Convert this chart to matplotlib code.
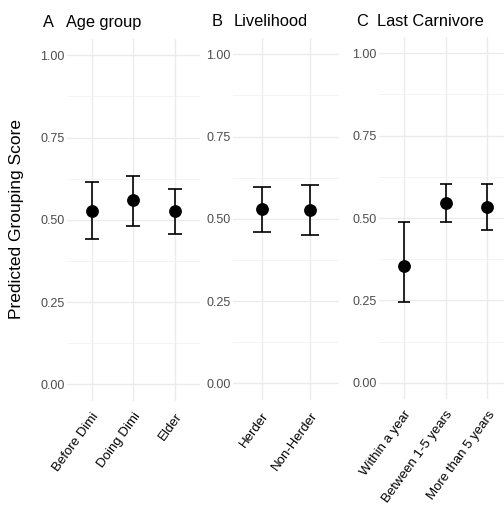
import matplotlib
matplotlib.use("Agg")
import matplotlib.pyplot as plt
import numpy as np

# ---- data ----
age_cats = ["Before Dimi", "Doing Dimi", "Elder"]
age_est = [0.528, 0.559, 0.527]
age_lo = [0.441, 0.481, 0.458]
age_hi = [0.615, 0.633, 0.595]

live_cats = ["Herder", "Non-Herder"]
live_est = [0.530, 0.528]
live_lo = [0.461, 0.452]
live_hi = [0.598, 0.603]

carn_cats = ["Within a year", "Between 1-5 years", "More than 5 years"]
carn_est = [0.354, 0.546, 0.532]
carn_lo = [0.246, 0.487, 0.464]
carn_hi = [0.489, 0.604, 0.602]

titles = [("A", "Age group"), ("B", "Livelihood"), ("C", "Last Carnivore")]
yticks = [0.0, 0.25, 0.5, 0.75, 1.0]
yticklabels = ["0.00", "0.25", "0.50", "0.75", "1.00"]

W, H = 504, 509
fig = plt.figure(figsize=(W / 100, H / 100), dpi=100)
plt.rcParams['font.family'] = ['Liberation Sans', 'DejaVu Sans']

# panel geometry in pixels: left, right, top, bottom
geoms = [(66.7, 200.2, 38.85, 400.75),
         (232.7, 339.0, 37.85, 399.75),
         (379.0, 512.4, 36.85, 399.2)]
title_pos = [(43.3, 66.0, 26.7), (211.7, 233.3, 26.0), (356.0, 377.3, 26.0)]
capsizes = [4.9, 6.6, 4.6]

panels = [(age_cats, age_est, age_lo, age_hi),
          (live_cats, live_est, live_lo, live_hi),
          (carn_cats, carn_est, carn_lo, carn_hi)]

grid_col = "#ebebeb"
for i, ((cats, est, lo, hi), (l, r, t, b)) in enumerate(zip(panels, geoms)):
    ax = fig.add_axes([l / W, 1 - b / H, (r - l) / W, (b - t) / H])
    x = np.arange(len(cats))
    est = np.array(est); lo = np.array(lo); hi = np.array(hi)
    ax.errorbar(x, est, yerr=[est - lo, hi - est], fmt='o', color='black',
                ecolor='black', elinewidth=1.2, capsize=capsizes[i], capthick=1.2,
                markersize=8.2, zorder=3)
    ax.set_xlim(-0.6, len(cats) - 0.4)
    ax.set_ylim(-0.05, 1.05)
    ax.set_yticks(yticks)
    ax.set_yticklabels(yticklabels)
    ax.set_yticks([0.125, 0.375, 0.625, 0.875], minor=True)
    ax.set_xticks(x)
    ax.set_xticklabels(cats, rotation=54, ha='right', va='top',
                       rotation_mode='anchor', fontsize=9.5, color='black')
    ax.tick_params(axis='x', length=0, pad=7)
    ax.tick_params(axis='y', which='both', length=0, pad=1.5)
    for lab in ax.get_yticklabels():
        lab.set_fontsize(9)
        lab.set_color('#4d4d4d')
    ax.grid(True, which='major', color=grid_col, linewidth=1.0, zorder=0)
    ax.grid(True, which='minor', axis='y', color='#f2f2f2', linewidth=0.6, zorder=0)
    ax.set_axisbelow(True)
    for s in ax.spines.values():
        s.set_visible(False)
    lx, tx, by = title_pos[i]
    fig.text(lx / W, 1 - by / H, titles[i][0], fontsize=11.8, va='baseline', ha='left')
    fig.text(tx / W, 1 - by / H, titles[i][1], fontsize=11.8, va='baseline', ha='left')

fig.text(17 / W, 1 - 219 / H, "Predicted Grouping Score", rotation=90,
         fontsize=12.5, va='center', ha='center')

fig.savefig("out.png", dpi=100)
